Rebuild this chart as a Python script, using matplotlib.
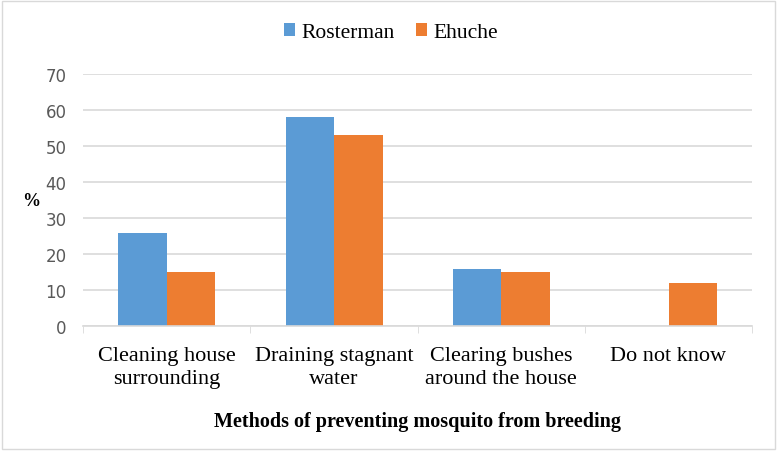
import numpy as np
import matplotlib.pyplot as plt
from matplotlib.patches import Rectangle

categories = ['Cleaning house\nsurrounding', 'Draining stagnant\nwater',
              'Clearing bushes\naround the house', 'Do not know']
rosterman = [26, 58, 16, 0]
ehuche = [15, 53, 15, 12]

blue = '#5B9BD5'
orange = '#ED7D31'

fig = plt.figure(figsize=(7.77, 4.64), dpi=100)
ax = fig.add_axes([0.107, 0.295, 0.861, 0.543])

x = np.arange(len(categories))
w = 0.29
ax.bar(x - w / 2, rosterman, w, color=blue, label='Rosterman')
ax.bar(x + w / 2, ehuche, w, color=orange, label='Ehuche')

ax.set_xlim(-0.5, len(categories) - 0.5)
ax.set_ylim(0, 70)
ax.set_yticks(range(0, 71, 10))
ax.yaxis.grid(True, color='#d9d9d9', linewidth=1.2)
ax.set_axisbelow(True)
for s in ['top', 'right', 'left']:
    ax.spines[s].set_visible(False)
ax.spines['bottom'].set_color('#d9d9d9')
ax.spines['bottom'].set_linewidth(1.2)

ax.set_xticks(x)
ax.set_xticklabels(categories, fontsize=16, family='Liberation Serif',
                   linespacing=1.35)
ax.tick_params(axis='x', length=0, pad=14)
ax.set_xticks(np.arange(len(categories) + 1) - 0.5, minor=True)
ax.tick_params(axis='x', which='minor', length=5, color='#d9d9d9')
ax.tick_params(axis='y', length=0, labelsize=12, labelcolor='#595959', pad=12)

ax.set_ylabel('%', fontsize=13, fontweight='bold', family='Liberation Serif',
              rotation=0, labelpad=10, va='center')
ax.set_xlabel('Methods of preventing mosquito from breeding', fontsize=14.5,
              fontweight='bold', family='Liberation Serif', labelpad=16)

leg = fig.legend(loc='upper center', bbox_to_anchor=(0.503, 0.99), ncol=2,
                 frameon=False, prop={'family': 'Liberation Serif', 'size': 15.5},
                 handlelength=0.5, handleheight=0.5, handletextpad=0.3,
                 columnspacing=1.0)

fig.patches.append(Rectangle((0.003, 0.03), 0.994, 0.965, transform=fig.transFigure,
                             fill=False, edgecolor='#d9d9d9', linewidth=1))

fig.savefig('out.png', dpi=100)
